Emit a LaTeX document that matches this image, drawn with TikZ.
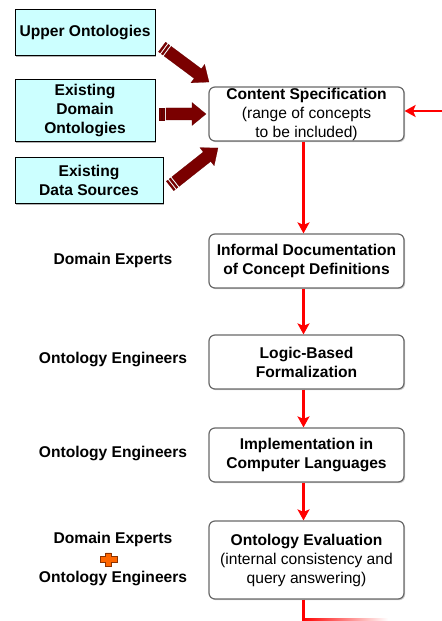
\documentclass[tikz,border=0pt]{standalone}
\usepackage{fontspec}
\setmainfont{Liberation Sans}
\usetikzlibrary{calc,arrows.meta,shadows}
\definecolor{maroonA}{RGB}{122,0,0}
\definecolor{cyanbox}{RGB}{204,255,255}
\definecolor{boxgray}{RGB}{105,105,105}
\definecolor{plusor}{RGB}{255,102,0}
\definecolor{plusedge}{RGB}{140,50,0}
\newcommand\fsz{\fontsize{15.6bp}{19bp}\selectfont}
\newcommand\stripedarrow[2]{%
  \coordinate (sa-h) at ($(#2)!14bp!(#1)$);
  \coordinate (sa-s) at ($(#1)!7bp!(#2)$);
  \coordinate (sa-a) at ($(#1)!2bp!(#2)$);
  \coordinate (sa-b) at ($(#1)!3.5bp!(#2)$);
  \coordinate (sa-c) at ($(#1)!5.5bp!(#2)$);
  \filldraw[barrow] ($(sa-s)!6bp!90:(#2)$) -- ($(sa-h)!6bp!-90:(#1)$) -- ($(sa-h)!11.5bp!-90:(#1)$) -- (#2) -- ($(sa-h)!11.5bp!90:(#1)$) -- ($(sa-h)!6bp!90:(#1)$) -- ($(sa-s)!6bp!-90:(#2)$) -- cycle;
  \filldraw[barrow] ($(#1)!6bp!90:(#2)$) -- ($(sa-a)!6bp!90:(#2)$) -- ($(sa-a)!6bp!-90:(#2)$) -- ($(#1)!6bp!-90:(#2)$) -- cycle;
  \filldraw[barrow] ($(sa-b)!6bp!90:(#2)$) -- ($(sa-c)!6bp!90:(#2)$) -- ($(sa-c)!6bp!-90:(#2)$) -- ($(sa-b)!6bp!-90:(#2)$) -- cycle;
}
\begin{document}
\begin{tikzpicture}[x=1bp,y=-1bp,
  cbox/.style={draw=black, line width=0.9bp, fill=cyanbox, align=center, font=\bfseries\fsz, inner sep=0pt,
    drop shadow={shadow xshift=1.3bp, shadow yshift=-1.3bp, fill=black!50, opacity=.6}},
  pbox/.style={draw=boxgray, line width=1.2bp, rounded corners=6bp, fill=white, align=center, font=\fsz, inner sep=0pt,
    minimum width=195bp, drop shadow={shadow xshift=1.2bp, shadow yshift=-1.2bp, fill=black!40, opacity=.5}},
  lab/.style={font=\bfseries\fsz, align=center, inner sep=0pt},
  flow/.style={draw=red, line width=2.8bp, -{Stealth[length=11bp,width=12bp,inset=2.5bp]}},
  barrow/.style={fill=maroonA, draw=maroonA!80!black, line width=0.2bp, line join=miter},
  plusmark/.style={fill=plusor, draw=plusedge, line width=0.6bp}]
\useasboundingbox (0,0) rectangle (442,621);

% source boxes
\node[cbox, minimum width=140bp, minimum height=46bp] (upper) at (85,32.5) {Upper Ontologies};
\node[cbox, minimum width=140bp, minimum height=62bp] (domain) at (85,110.5) {Existing\\Domain\\Ontologies};
\node[cbox, minimum width=148bp, minimum height=46bp] (data) at (89,180.5) {Existing\\Data Sources};

% process boxes
\node[pbox, minimum height=54bp] (cs) at (306.5,114) {\textbf{Content Specification}\\(range of concepts\\to be included)};
\node[pbox, minimum height=54bp] (inf) at (306.5,261) {\textbf{Informal Documentation}\\\textbf{of Concept Definitions}};
\node[pbox, minimum height=54bp] (logic) at (306.5,362) {\textbf{Logic-Based}\\\textbf{Formalization}};
\node[pbox, minimum height=54bp] (impl) at (306.5,455) {\textbf{Implementation in}\\\textbf{Computer Languages}};
\node[pbox, minimum height=78bp] (eval) at (306.5,560) {\textbf{Ontology Evaluation}\\(internal consistency and\\query answering)};

% role labels
\node[lab] (de1) at (113,260) {Domain Experts};
\node[lab] (oe1) at (113,359) {Ontology Engineers};
\node[lab] (oe2) at (113,453) {Ontology Engineers};
\node[lab] (de2) at (113,539) {Domain Experts};
\node[lab] (oe3) at (113,578) {Ontology Engineers};
\coordinate (plus) at (108.5,559.5);
\path[plusmark] ($(plus)+(-2.9,-6.7)$) -- ($(plus)+(2.9,-6.7)$) -- ($(plus)+(2.9,-2.9)$) -- ($(plus)+(8.3,-2.9)$)
  -- ($(plus)+(8.3,2.9)$) -- ($(plus)+(2.9,2.9)$) -- ($(plus)+(2.9,6.7)$) -- ($(plus)+(-2.9,6.7)$)
  -- ($(plus)+(-2.9,2.9)$) -- ($(plus)+(-8.3,2.9)$) -- ($(plus)+(-8.3,-2.9)$) -- ($(plus)+(-2.9,-2.9)$) -- cycle;

% striped block arrows
\coordinate (t1) at (162,47);  \coordinate (h1) at (209,82);
\coordinate (t2) at (159,114); \coordinate (h2) at (206,114);
\coordinate (t3) at (170,186); \coordinate (h3) at (218,148);
\stripedarrow{t1}{h1}
\stripedarrow{t2}{h2}
\stripedarrow{t3}{h3}

% red flow
\coordinate (spine) at (303.5,0);
\draw[flow] (cs.south -| spine) -- (inf.north -| spine);
\draw[flow] (inf.south -| spine) -- (logic.north -| spine);
\draw[flow] (logic.south -| spine) -- (impl.north -| spine);
\draw[flow] (impl.south -| spine) -- (eval.north -| spine);
\coordinate (fb) at (446,111);
\draw[flow] (fb) -- (fb -| cs.east);
\coordinate (bot) at (303.5,620);
\shade[left color=red, right color=white] (302.1,618.6) rectangle (388,621.4);
\draw[red, line width=2.8bp] (eval.south -| spine) -- (bot);
\end{tikzpicture}
\end{document}
